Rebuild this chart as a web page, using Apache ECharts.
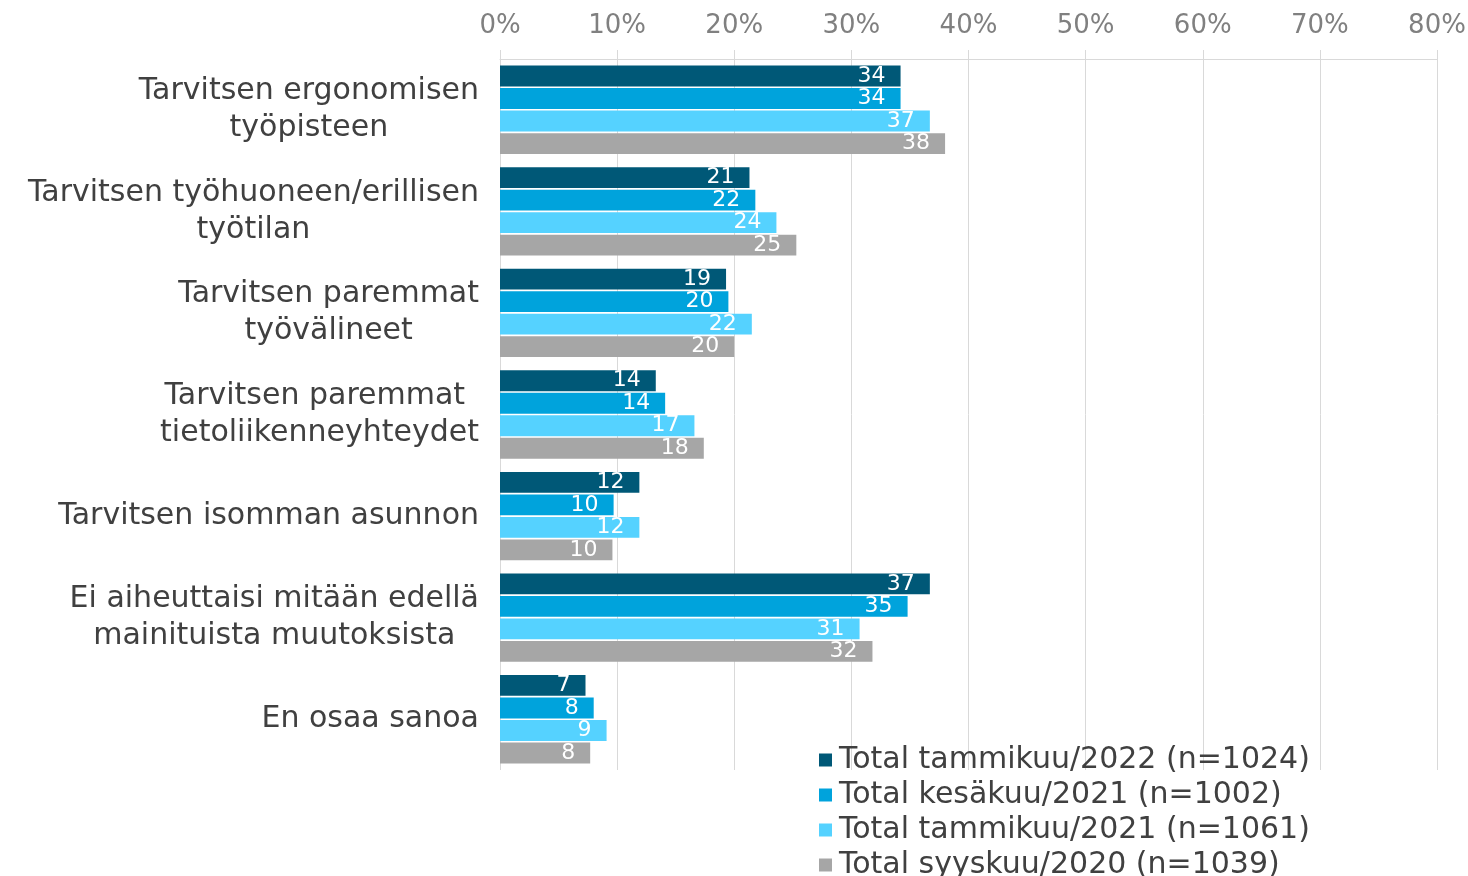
<!DOCTYPE html>
<html>
<head>
<meta charset="utf-8">
<script src="https://cdn.jsdelivr.net/npm/echarts@6/dist/echarts.min.js"></script>
<style>
  html, body { margin: 0; padding: 0; background: #fff; }
  #chart { width: 1468px; height: 876px; }
</style>
</head>
<body>
<div id="chart"></div>
<script>
const categories = [
  'Tarvitsen ergonomisen\ntyöpisteen',
  'Tarvitsen työhuoneen/erillisen\ntyötilan',
  'Tarvitsen paremmat\ntyövälineet',
  'Tarvitsen paremmat \ntietoliikenneyhteydet',
  'Tarvitsen isomman asunnon',
  'Ei aiheuttaisi mitään edellä\nmainituista muutoksista',
  'En osaa sanoa'
]
const seriesNames = [
  'Total tammikuu/2022 (n=1024)',
  'Total kesäkuu/2021 (n=1002)',
  'Total tammikuu/2021 (n=1061)',
  'Total syyskuu/2020 (n=1039)'
]
// bar lengths (%)
const jan2022 = [34.2, 21.3, 19.3, 13.3, 11.9, 36.7, 7.3]
const jun2021 = [34.2, 21.8, 19.5, 14.1, 9.7, 34.8, 8.0]
const jan2021 = [36.7, 23.6, 21.5, 16.6, 11.9, 30.7, 9.1]
const sep2020 = [38.0, 25.3, 20.0, 17.4, 9.6, 31.8, 7.7]
// data labels printed on the bars
const jan2022Labels = [34, 21, 19, 14, 12, 37, 7]
const jun2021Labels = [34, 22, 20, 14, 10, 35, 8]
const jan2021Labels = [37, 24, 22, 17, 12, 31, 9]
const sep2020Labels = [38, 25, 20, 18, 10, 32, 8]
const xTicks = [0, 10, 20, 30, 40, 50, 60, 70, 80]

const colors = ['#005877', '#00a3dc', '#55d2ff', '#a6a6a6']
const font = 'DejaVu Sans'

const values = [jan2022, jun2021, jan2021, sep2020]
const labels = [jan2022Labels, jun2021Labels, jan2021Labels, sep2020Labels]

const series = values.map((vals, i) => ({
  name: seriesNames[i],
  type: 'bar',
  data: vals,
  barGap: '8%',
  barCategoryGap: '13%',
  itemStyle: { color: colors[i] },
  label: {
    show: true,
    position: 'insideRight',
    distance: 15,
    color: '#fff',
    fontFamily: font,
    fontSize: 22,
    formatter: p => String(labels[i][p.dataIndex])
  }
}))

let option = {
  animation: false,
  color: colors,
  grid: {
    left: 500,
    right: 31,
    top: 59,
    bottom: 106,
    containLabel: false,
    outerBoundsMode: 'none'
  },
  legend: {
    orient: 'vertical',
    left: 819,
    top: 745,
    height: 150,
    padding: 0,
    itemWidth: 13,
    itemHeight: 13,
    itemGap: 5,
    icon: 'rect',
    textStyle: {
      fontFamily: font,
      fontSize: 30,
      lineHeight: 30,
      color: '#404040',
      padding: [0, 0, 0, 2]
    },
    data: seriesNames
  },
  xAxis: {
    type: 'value',
    position: 'top',
    min: xTicks[0],
    max: xTicks[xTicks.length - 1],
    interval: 10,
    axisLine: { show: true, lineStyle: { color: '#d9d9d9', width: 1 } },
    axisTick: { show: true, length: 9, lineStyle: { color: '#d9d9d9' } },
    splitLine: { show: true, lineStyle: { color: '#d9d9d9', width: 1 } },
    axisLabel: {
      formatter: '{value}%',
      color: '#808080',
      fontFamily: font,
      fontSize: 26,
      margin: 20
    }
  },
  yAxis: {
    type: 'category',
    inverse: true,
    data: categories,
    axisLine: { show: false },
    axisTick: { show: false },
    axisLabel: {
      margin: 21,
      align: 'right',
      formatter: v => v.split('\n').map(s => '{c|' + s + '}').join('\n'),
      rich: {
        c: {
          align: 'center',
          fontFamily: font,
          fontSize: 30,
          lineHeight: 37,
          color: '#404040'
        }
      }
    }
  },
  series: series
}

let chart = echarts.init(document.getElementById('chart'))
chart.setOption(option)
</script>
</body>
</html>
